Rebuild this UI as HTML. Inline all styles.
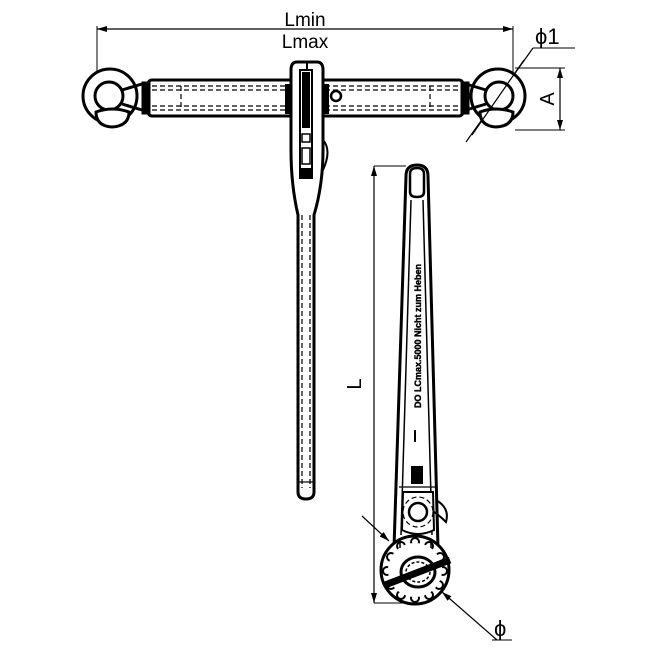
<!DOCTYPE html>
<html><head><meta charset="utf-8"><style>html,body{margin:0;padding:0;background:#fff}svg{display:block}</style></head>
<body>
<svg width="650" height="650" viewBox="0 0 650 650" xmlns="http://www.w3.org/2000/svg" font-family="Liberation Sans, sans-serif">
<defs>
<marker id="ar" viewBox="0 0 10 6" refX="10" refY="3" markerWidth="10" markerHeight="6" orient="auto-start-reverse" markerUnits="userSpaceOnUse"><path d="M0,0 L10,3 L0,6 z" fill="#000"/></marker>
</defs>
<g stroke="#000" fill="none">
<line x1="97" y1="29" x2="513" y2="29" stroke-width="1.2" marker-start="url(#ar)" marker-end="url(#ar)"/>
<line x1="97" y1="26" x2="97" y2="82" stroke-width="1"/>
<line x1="513" y1="26" x2="513" y2="72" stroke-width="1"/>
<line x1="515" y1="68" x2="565" y2="68" stroke-width="1"/>
<line x1="515" y1="130" x2="565" y2="130" stroke-width="1"/>
<line x1="560" y1="68" x2="560" y2="130" stroke-width="1.2" marker-start="url(#ar)" marker-end="url(#ar)"/>
<line x1="466" y1="142" x2="533" y2="48" stroke-width="1.2"/>
<line x1="533" y1="48" x2="575" y2="48" stroke-width="1"/>

<rect x="148" y="80" width="315" height="36" rx="4" stroke-width="3"/>
<g stroke-width="1.2" stroke-dasharray="5,3">
<line x1="152" y1="86" x2="290" y2="86"/><line x1="152" y1="110" x2="290" y2="110"/>
<line x1="325" y1="86" x2="458" y2="86"/><line x1="325" y1="110" x2="458" y2="110"/>
<line x1="181" y1="86" x2="181" y2="110"/><line x1="430" y1="86" x2="430" y2="110"/>
<line x1="152" y1="90" x2="290" y2="90"/><line x1="152" y1="106" x2="290" y2="106"/>
<line x1="325" y1="90" x2="458" y2="90"/><line x1="325" y1="106" x2="458" y2="106"/>
</g>
<rect x="142" y="82" width="8" height="32" fill="#000" stroke-width="1"/>
<rect x="461" y="82" width="8" height="32" fill="#000" stroke-width="1"/>
<circle cx="110" cy="96" r="27" stroke-width="3" fill="#fff"/>
<circle cx="109" cy="96" r="14" stroke-width="3"/>
<path d="M122,90 L142,84 M122,104 L142,110" stroke-width="3"/>
<path d="M96,112 Q96,126 112,127 Q129,126 129,112 Q112,106 96,112 z" stroke-width="3" fill="#fff"/>
<circle cx="498" cy="96" r="27" stroke-width="3" fill="#fff"/>
<circle cx="499" cy="96" r="14" stroke-width="3"/>
<path d="M486,90 L466,84 M486,104 L466,110" stroke-width="3"/>
<path d="M480,112 Q480,126 496,127 Q513,126 513,112 Q496,106 480,112 z" stroke-width="3" fill="#fff"/>
<line x1="472" y1="135" x2="524" y2="60" stroke-width="1.2"/>

<path d="M291,70 Q291,62 297,62 L317,62 Q323,62 323,70 L323,150 Q323,185 314,215 L314,492 Q314,499 306,499 Q298,499 298,492 L298,215 Q291,185 291,150 z" stroke-width="3" fill="#fff"/>
<line x1="307" y1="62" x2="307" y2="70" stroke-width="2"/>
<rect x="300" y="70" width="12" height="108" stroke-width="2" fill="#fff"/>
<rect x="302" y="72" width="8" height="56" fill="#000" stroke="none"/>
<rect x="302" y="134" width="8" height="8" stroke-width="1.5"/>
<rect x="302" y="148" width="8" height="16" stroke-width="1.5"/>
<rect x="301" y="168" width="10" height="10" fill="#000" stroke="none"/>
<line x1="302" y1="215" x2="302" y2="488" stroke-width="1.2" stroke-dasharray="5,3"/>
<line x1="310" y1="215" x2="310" y2="488" stroke-width="1.2" stroke-dasharray="5,3"/>
<line x1="298" y1="482" x2="314" y2="482" stroke-width="1.2"/>
<rect x="285" y="84" width="6" height="30" fill="#000" stroke="none"/>
<rect x="323" y="84" width="6" height="30" fill="#000" stroke="none"/>
<circle cx="336" cy="96" r="5" stroke-width="2.5"/>
<path d="M323,140 Q332,150 323,170" stroke-width="2"/>

<path d="M406,176 Q406,165 417,165 Q428,165 428,176 L438,548 L394,548 z" stroke-width="3" fill="#fff"/>
<path d="M410,174 Q410,168 417,168 Q424,168 424,174 L424,192 Q424,197 417,197 Q410,197 410,192 z" stroke-width="2.5"/>
<line x1="411" y1="200" x2="401" y2="535" stroke-width="1.5"/>
<line x1="423" y1="200" x2="432" y2="535" stroke-width="1.5"/>
<circle cx="415" cy="570" r="34" stroke-width="3" fill="#fff"/>
<g stroke-width="2">
<circle cx="415" cy="542" r="4"/><circle cx="429" cy="546" r="4"/><circle cx="440" cy="557" r="4"/><circle cx="443" cy="571" r="4"/><circle cx="439" cy="585" r="4"/><circle cx="429" cy="595" r="4"/><circle cx="415" cy="598" r="4"/><circle cx="401" cy="595" r="4"/><circle cx="391" cy="585" r="4"/><circle cx="387" cy="571" r="4"/><circle cx="391" cy="557" r="4"/><circle cx="401" cy="546" r="4"/>
</g>
<circle cx="415" cy="570" r="27" fill="#fff" stroke="none"/>
<path d="M400,540 L400,548 M431,540 L431,548" stroke-width="1.5"/>
<ellipse cx="418" cy="572" rx="17" ry="15" stroke-width="3"/>
<ellipse cx="418" cy="572" rx="12" ry="10" stroke-width="1.5" stroke-dasharray="3,2"/>
<line x1="385" y1="585" x2="450" y2="560" stroke-width="7"/>
<path d="M403,492 L433,492 L434,530 Q418,538 402,530 z" stroke-width="2" fill="#fff"/>
<circle cx="418" cy="512" r="9" stroke-width="2.5"/>
<circle cx="418" cy="512" r="15" stroke-width="1.2" stroke-dasharray="5,3"/>
<path d="M436,500 Q450,508 446,522 Q440,516 434,512" stroke-width="2"/>
<rect x="411" y="466" width="12" height="18" fill="#000" stroke="none"/>
<line x1="399" y1="487" x2="435" y2="487" stroke-width="1.2"/>
<line x1="415" y1="430" x2="415" y2="442" stroke-width="2"/>

<line x1="374" y1="166" x2="406" y2="166" stroke-width="1"/>
<line x1="374" y1="603" x2="405" y2="603" stroke-width="1"/>
<line x1="374" y1="166" x2="374" y2="603" stroke-width="1.2" marker-start="url(#ar)" marker-end="url(#ar)"/>
<line x1="362" y1="516" x2="389" y2="541" stroke-width="1.2" marker-end="url(#ar)"/>
<line x1="497" y1="640" x2="442" y2="592" stroke-width="1.2" marker-end="url(#ar)"/>
<line x1="492" y1="640" x2="512" y2="640" stroke-width="1"/>
</g>
<g fill="#000" font-size="19">
<text x="305" y="26" text-anchor="middle">Lmin</text>
<text x="305" y="48" text-anchor="middle">Lmax</text>
<text x="535" y="44" font-size="22">ϕ1</text>
<text x="554" y="99" transform="rotate(-90 554 99)" text-anchor="middle" font-size="20">A</text>
<text x="361" y="384" transform="rotate(-90 361 384)" text-anchor="middle" font-size="20">L</text>
<text x="494" y="636" font-size="22">ϕ</text>
<text x="421" y="336" transform="rotate(-90 421 336)" text-anchor="middle" font-size="9" font-weight="bold" stroke="#000" stroke-width="0.4">DO  LCmax.5000   Nicht zum Heben</text>
</g>
</svg>
</body></html>
